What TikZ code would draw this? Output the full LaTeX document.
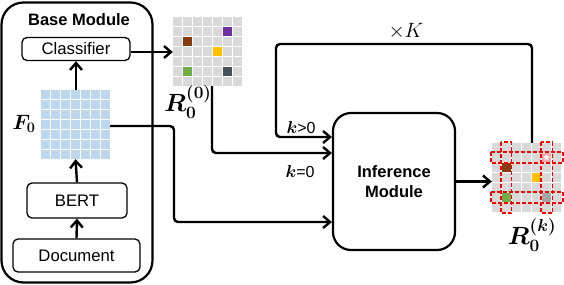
\documentclass[tikz,border=0pt]{standalone}
\usepackage{amsmath,bm}
\usepackage{fontspec}
\setmainfont{Liberation Sans}
\usetikzlibrary{arrows.meta,shapes.geometric,calc}
\definecolor{cellgray}{HTML}{D9D9D9}
\definecolor{cellblue}{HTML}{BDD7EE}
\definecolor{cpurple}{HTML}{7030A0}
\definecolor{cbrown}{HTML}{843C0C}
\definecolor{cyellow}{HTML}{FFC000}
\definecolor{cgreen}{HTML}{70AD47}
\definecolor{cdark}{HTML}{4B5057}
\definecolor{clight}{HTML}{A6A6A6}
\definecolor{cpink}{HTML}{F7A8A8}
\newcommand\mygrid[3]{%
  \foreach \gi in {0,...,6}{\foreach \gj in {0,...,6}{\fill[#3] ({#1+10*\gj},{#2+10*\gi}) rectangle ++(9,9);}}}
\begin{document}
\begin{tikzpicture}[x=1pt,y=-1pt,
  arr/.style={line width=2.4pt,-{Straight Barb[length=7pt,width=12pt]}},
  boxsm/.style={draw,line width=1.3pt,rounded corners=5pt,inner sep=0pt,font=\fontsize{16.7}{19}\selectfont},
  bigbox/.style={draw,line width=2.2pt,inner sep=0pt},
  gridnode/.style={inner sep=0pt,minimum width=69pt,minimum height=69pt},
  reddash/.style={draw=red,line width=1.4pt,dash pattern=on 4pt off 2pt},
  lbl/.style={inner sep=0pt}]
\useasboundingbox (0,0) rectangle (564,284);
% base module
\node[bigbox,rounded corners=22pt,minimum width=151pt,minimum height=280pt] (base) at (77,142.5) {};
\node[lbl,font=\fontsize{16.5}{19}\selectfont\bfseries] (basettl) at (79,20) {Base Module};
\node[boxsm,minimum width=108pt,minimum height=23pt] (cls) at (76,49) {Classifier};
\node[boxsm,minimum width=100pt,minimum height=35pt] (bert) at (77,200.5) {BERT};
\node[boxsm,minimum width=127pt,minimum height=33pt] (doc) at (76.5,255.5) {Document};
% F0 grid
\mygrid{41}{90}{cellblue}
\node[gridnode] (F) at (75.5,124.5) {};
\node[lbl,font=\fontsize{22}{26}\selectfont] (Flbl) at (24,124) {$\bm{F}_{\bm{0}}$};
% R0 grid
\mygrid{173}{17}{cellgray}
\fill[cpurple] (223,27) rectangle ++(9,9);
\fill[cbrown] (183,37) rectangle ++(9,9);
\fill[cyellow] (213,47) rectangle ++(9,9);
\fill[cgreen] (183,67) rectangle ++(9,9);
\fill[cdark] (223,67) rectangle ++(9,9);
\node[gridnode] (R0) at (207.5,51.5) {};
\node[lbl,font=\fontsize{23}{27}\selectfont] (R0lbl) at (188,102) {$\bm{R}_{\bm{0}}^{\bm{(0)}}$};
% inference
\node[bigbox,rounded corners=18pt,minimum width=122pt,minimum height=137pt,align=center,
  font=\fontsize{16.5}{20}\selectfont\bfseries] (inf) at (394,181.5) {Inference\\Module};
% output grid
\mygrid{492}{143}{cellgray}
\fill[cpink] (542,153) rectangle ++(9,9);
\node[star,star points=5,star point ratio=2.2,fill=white,inner sep=0pt,minimum size=7pt] (st) at (546.5,157.5) {};
\fill[cbrown] (502,163) rectangle ++(9,9);
\fill[cyellow] (532,173) rectangle ++(9,9);
\fill[cgreen] (502,193) rectangle ++(9,9);
\fill[clight] (542,193) rectangle ++(9,9);
\node[gridnode] (RK) at (526.5,177.5) {};
\draw[reddash] (501,142) rectangle (511.5,213);
\draw[reddash] (541,142) rectangle (552.5,213);
\draw[reddash] (491,152) rectangle (563,163);
\draw[reddash] (491,192) rectangle (563,203);
\node[lbl,font=\fontsize{23}{27}\selectfont] (RKlbl) at (532,235) {$\bm{R}_{\bm{0}}^{\bm{(k)}}$};
% arrows in base module
\draw[arr] (doc.north) -- (bert.south);
\draw[arr] (bert.north) -- (F.south);
\draw[arr] (F.north -| cls.south) -- (cls.south);
\draw[arr] (cls.east |- 0,52) -- (R0.west |- 0,52);
% F0 to inference
\draw[arr,rounded corners=4pt] (F.east |- 0,126) -- (174,126) -- (174,222) -- (inf.west |- 0,222);
% R0 to inference (k=0)
\draw[arr,rounded corners=4pt] (R0.south -| 212,0) -- (212,153) -- (inf.west |- 0,153);
% loop
\draw[arr,rounded corners=4pt] (RK.north -| 532,0) -- (532,44) -- (276,44) -- (276,137) -- (inf.west |- 0,137);
% inference to output
\draw[arr] (inf.east) -- (RK.west |- inf.east);
% labels
\node[lbl,font=\fontsize{16}{18}\selectfont] (kg) at (301,128) {$\bm{k}$>0};
\node[lbl,font=\fontsize{16}{18}\selectfont] (ke) at (300,172) {$\bm{k}$=0};
\node[lbl,font=\fontsize{22}{24}\selectfont] (xk) at (406,31) {$\times K$};
\end{tikzpicture}
\end{document}
